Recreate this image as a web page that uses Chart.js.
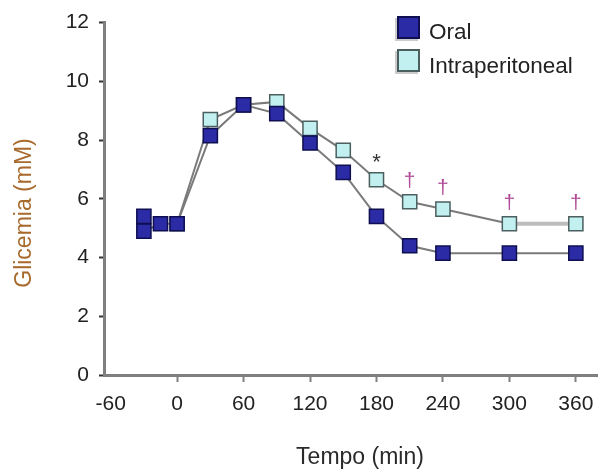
<!DOCTYPE html>
<html>
<head>
<meta charset="utf-8">
<script src="https://cdn.jsdelivr.net/npm/chart.js@4.4.1/dist/chart.umd.min.js"></script>
<style>
  html, body { margin: 0; padding: 0; background: #fff; }
  #wrap { width: 598px; height: 469px; position: relative; }
</style>
</head>
<body>
<div id="wrap"><canvas id="myChart"></canvas></div>
<script>
// glucose curves (min, mM)
const oralTimes = [-30, -30, -15, 0, 30, 60, 90, 120, 150, 180, 210, 240, 300, 360];
const oralGlucose = [5.4, 4.9, 5.15, 5.15, 8.15, 9.2, 8.9, 7.9, 6.9, 5.4, 4.4, 4.15, 4.15, 4.15];
const ipTimes = [0, 30, 60, 90, 120, 150, 180, 210, 240, 300, 360];
const ipGlucose = [5.15, 8.7, 9.2, 9.3, 8.4, 7.65, 6.65, 5.9, 5.65, 5.15, 5.15];

const xTicks = [-60, 0, 60, 120, 180, 240, 300, 360];
const yTicks = [0, 2, 4, 6, 8, 10, 12];

// significance marks above the intraperitoneal curve
const sigTimes = [180, 210, 240, 300, 360];
const sigMarks = ["*", "\u2020", "\u2020", "\u2020", "\u2020"];

const FONT = "'Liberation Sans', Arial, sans-serif";

function toPoints(xs, ys) {
  return xs.map((x, i) => ({ x: x, y: ys[i] }));
}

const extras = {
  id: "extras",
  afterDraw(chart) {
    const ctx = chart.ctx;
    const xs = chart.scales.x;
    const ys = chart.scales.y;

    // * and dagger marks
    ctx.save();
    ctx.textAlign = "center";
    ctx.textBaseline = "alphabetic";
    sigTimes.forEach((t, i) => {
      const idx = ipTimes.indexOf(t);
      const px = xs.getPixelForValue(t);
      const py = ys.getPixelForValue(ipGlucose[idx]);
      const isStar = sigMarks[i] === "*";
      ctx.font = (isStar ? "22px " : "21px ") + FONT;
      ctx.fillStyle = isStar ? "#333333" : "#b04a98";
      const m = ctx.measureText(sigMarks[i]);
      const mid = (m.actualBoundingBoxAscent - m.actualBoundingBoxDescent) / 2;
      ctx.fillText(sigMarks[i], px, py - 22 + mid);
    });
    ctx.restore();

    // axis titles
    ctx.save();
    ctx.fillStyle = "#2a2a2a";
    ctx.font = "23px " + FONT;
    ctx.textAlign = "center";
    ctx.textBaseline = "middle";
    ctx.fillText("Tempo (min)", 360, 458);
    ctx.translate(25, 213);
    ctx.rotate(-Math.PI / 2);
    ctx.fillStyle = "#a86a2c";
    ctx.fillText("Glicemia (mM)", 0, 0);
    ctx.restore();

    // legend
    ctx.save();
    ctx.font = "22.5px " + FONT;
    ctx.textAlign = "left";
    ctx.textBaseline = "alphabetic";
    chart.data.datasets.forEach((ds, i) => {
      const bx = 397;
      const by = 16 + i * 33;
      ctx.fillStyle = "#cccccc";
      ctx.fillRect(bx - 2, by + 2, 23, 23);
      ctx.fillStyle = ds.pointBackgroundColor;
      ctx.fillRect(bx, by, 23, 23);
      ctx.lineWidth = 2;
      ctx.strokeStyle = ds.pointBorderColor;
      ctx.strokeRect(bx + 1, by + 1, 21, 21);
      ctx.fillStyle = "#222222";
      ctx.fillText(ds.label, 429, 38.5 + i * 34);
    });
    ctx.restore();
  },
};

new Chart(document.getElementById("myChart"), {
  type: "scatter",
  data: {
    datasets: [
      {
        label: "Oral",
        data: toPoints(oralTimes, oralGlucose),
        showLine: true,
        borderColor: "#7a7a7a",
        borderWidth: 2,
        pointStyle: "rect",
        pointRadius: 10,
        pointHoverRadius: 10,
        pointBorderWidth: 1.5,
        pointBackgroundColor: "#2b2ba6",
        pointBorderColor: "#0e0e50",
        clip: false,
      },
      {
        label: "Intraperitoneal",
        data: toPoints(ipTimes, ipGlucose),
        showLine: true,
        borderColor: "#7a7a7a",
        borderWidth: 2,
        segment: {
          borderColor: (c) => (c.p0DataIndex === ipTimes.length - 2 ? "#bdbdbd" : undefined),
          borderWidth: (c) => (c.p0DataIndex === ipTimes.length - 2 ? 4 : undefined),
        },
        pointStyle: "rect",
        pointRadius: 10,
        pointHoverRadius: 10,
        pointBorderWidth: 1.5,
        pointBackgroundColor: "#c2f0f0",
        pointBorderColor: "#4b5f5f",
        clip: false,
      },
    ],
  },
  options: {
    responsive: true,
    maintainAspectRatio: false,
    devicePixelRatio: 1,
    animation: false,
    layout: { autoPadding: false, padding: { top: 22, right: 0, left: 0, bottom: 0 } },
    plugins: {
      legend: { display: false },
      tooltip: { enabled: false },
    },
    scales: {
      x: {
        type: "linear",
        min: -66,
        max: 380,
        afterBuildTicks: (s) => {
          s.ticks = xTicks.map((v) => ({ value: v }));
        },
        afterFit: (s) => {
          s.height = 94;
          s.paddingLeft = 0;
          s.paddingRight = 0;
        },
        border: { color: "#7f7f7f", width: 3 },
        grid: {
          drawOnChartArea: false,
          tickLength: 7,
          tickWidth: 2,
          tickColor: (c) => (c.tick && c.tick.value === -60 ? "rgba(0,0,0,0)" : "#808080"),
        },
        ticks: {
          padding: 10,
          color: "#222222",
          font: { family: FONT, size: 21 },
          maxRotation: 0,
        },
      },
      y: {
        min: 0,
        max: 12,
        afterBuildTicks: (s) => {
          s.ticks = yTicks.map((v) => ({ value: v }));
        },
        afterFit: (s) => {
          s.width = 104;
        },
        border: { color: "#7f7f7f", width: 3 },
        grid: {
          drawOnChartArea: false,
          tickLength: 5,
          tickWidth: 2,
          tickColor: "#333333",
        },
        ticks: {
          padding: 10,
          color: "#222222",
          font: { family: FONT, size: 21 },
        },
      },
    },
  },
  plugins: [extras],
});
</script>
</body>
</html>
